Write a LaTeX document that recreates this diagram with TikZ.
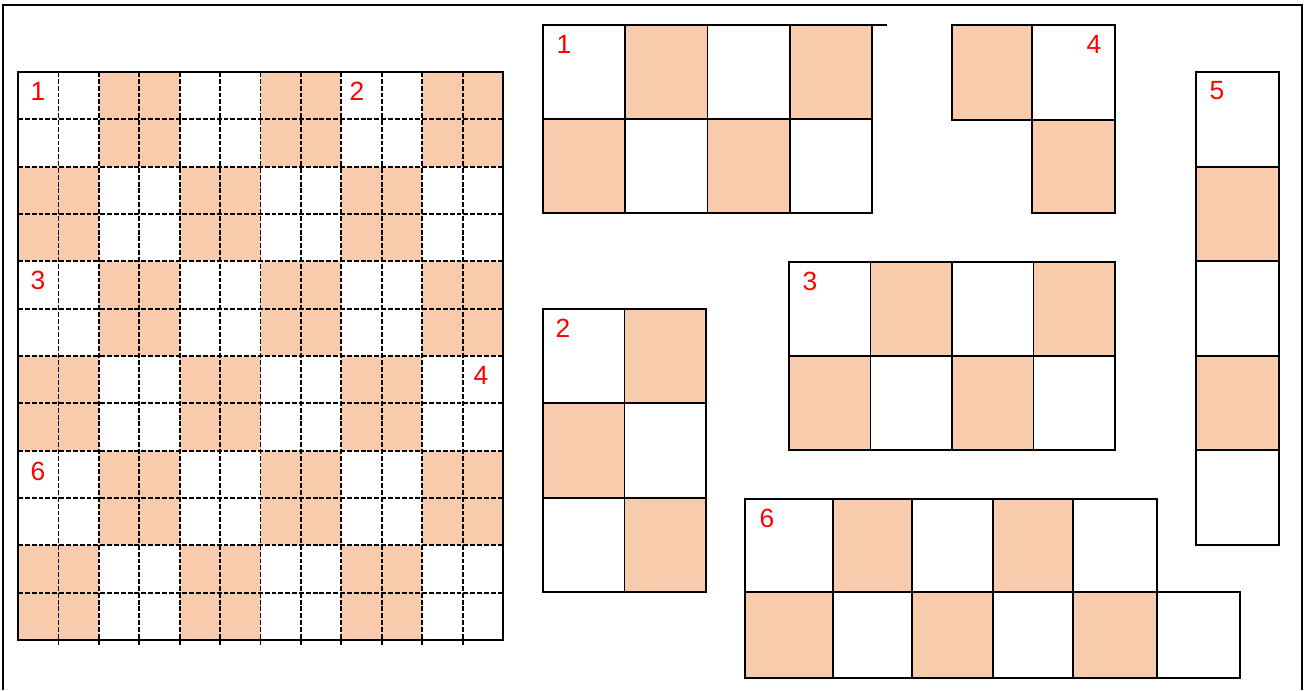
\documentclass[tikz,border=0pt]{standalone}
\usepackage{fontspec}
\setmainfont{Liberation Sans}
\definecolor{peach}{RGB}{247,203,172}
\tikzset{
  frame/.style={black, line width=1.1pt},
  cellbox/.style={draw=black, line width=1.1pt},
  shaded/.style={fill=peach},
  gridline/.style={black, line width=1pt, dash pattern=on 2.8pt off 1.1pt},
  num/.style={text=red, font=\fontsize{15}{15}\selectfont, inner sep=0pt},
}
% a block of tiles: x0, y0, width, height, last column, last row, tone that is shaded
\newcommand{\tileblock}[7]{%
  \foreach \c in {0,...,#5}
    \foreach \r in {0,...,#6} {
      \pgfmathtruncatemacro{\tone}{mod(\c+\r,2)}
      \ifnum\tone=#7
        \fill[shaded] ({#1+#3*\c},{#2+#4*\r}) rectangle ++(#3,#4);
      \fi
    }
  \foreach \c in {0,...,#5}
    \foreach \r in {0,...,#6}
      \draw[cellbox] ({#1+#3*\c},{#2+#4*\r}) rectangle ++(#3,#4);
}
\begin{document}
\begin{tikzpicture}[x=0.02cm, y=-0.02cm]
  \useasboundingbox (0,0) rectangle (1307,690);
  \draw[frame] (3,690) -- (3,5) -- (1302,5) -- (1302,690);

  % the board
  \foreach \i in {0,...,11}
    \foreach \j in {0,...,11} {
      \pgfmathtruncatemacro{\tone}{mod(floor(\i/2)+floor(\j/2),2)}
      \ifnum\tone=1
        \fill[shaded] ({18+40.42*\i},{72+47.33*\j}) rectangle ++(40.42,47.33);
      \fi
    }
  \foreach \i in {1,...,11}
    \draw[gridline] ({18+40.42*\i},72) -- ({18+40.42*\i},645);
  \foreach \j in {1,...,11}
    \draw[gridline] (18,{72+47.33*\j}) -- (503,{72+47.33*\j});
  \draw[frame] (18,72) rectangle (503,640);
  \node[num] (b1) at (38,91) {1};
  \node[num] (b2) at (357,91) {2};
  \node[num] (b3) at (38,280) {3};
  \node[num] (b4) at (481,375) {4};
  \node[num] (b6) at (38,471) {6};

  % the pieces
  \tileblock{543}{25}{82.25}{94}{3}{1}{1}
  \draw[cellbox] (872,25) -- (887,25);
  \node[num] (p1) at (564,44) {1};

  \tileblock{543}{309}{81.5}{94.33}{1}{2}{1}
  \node[num] (p2) at (563,328) {2};

  \tileblock{789}{262}{81.5}{94}{3}{1}{1}
  \node[num] (p3) at (810,281) {3};

  \fill[shaded] (952,25) rectangle (1032,120);
  \fill[shaded] (1032,120) rectangle (1115,213);
  \draw[cellbox] (952,25) rectangle (1032,120);
  \draw[cellbox] (1032,25) rectangle (1115,120);
  \draw[cellbox] (1032,120) rectangle (1115,213);
  \node[num] (p4) at (1094,44) {4};

  \tileblock{1196}{72}{83}{94.6}{0}{4}{1}
  \node[num] (p5) at (1217,91) {5};

  \foreach \xa/\xb [count=\c] in {745/833,833/912,912/993,993/1073,1073/1157} {
    \ifodd\c \else \fill[shaded] (\xa,499) rectangle (\xb,592); \fi
  }
  \foreach \xa/\xb [count=\c] in {745/833,833/912,912/993,993/1073,1073/1157,1157/1240} {
    \ifodd\c \fill[shaded] (\xa,592) rectangle (\xb,678); \fi
  }
  \foreach \xa/\xb in {745/833,833/912,912/993,993/1073,1073/1157}
    \draw[cellbox] (\xa,499) rectangle (\xb,592);
  \foreach \xa/\xb in {745/833,833/912,912/993,993/1073,1073/1157,1157/1240}
    \draw[cellbox] (\xa,592) rectangle (\xb,678);
  \node[num] (p6) at (767,518) {6};
\end{tikzpicture}
\end{document}
